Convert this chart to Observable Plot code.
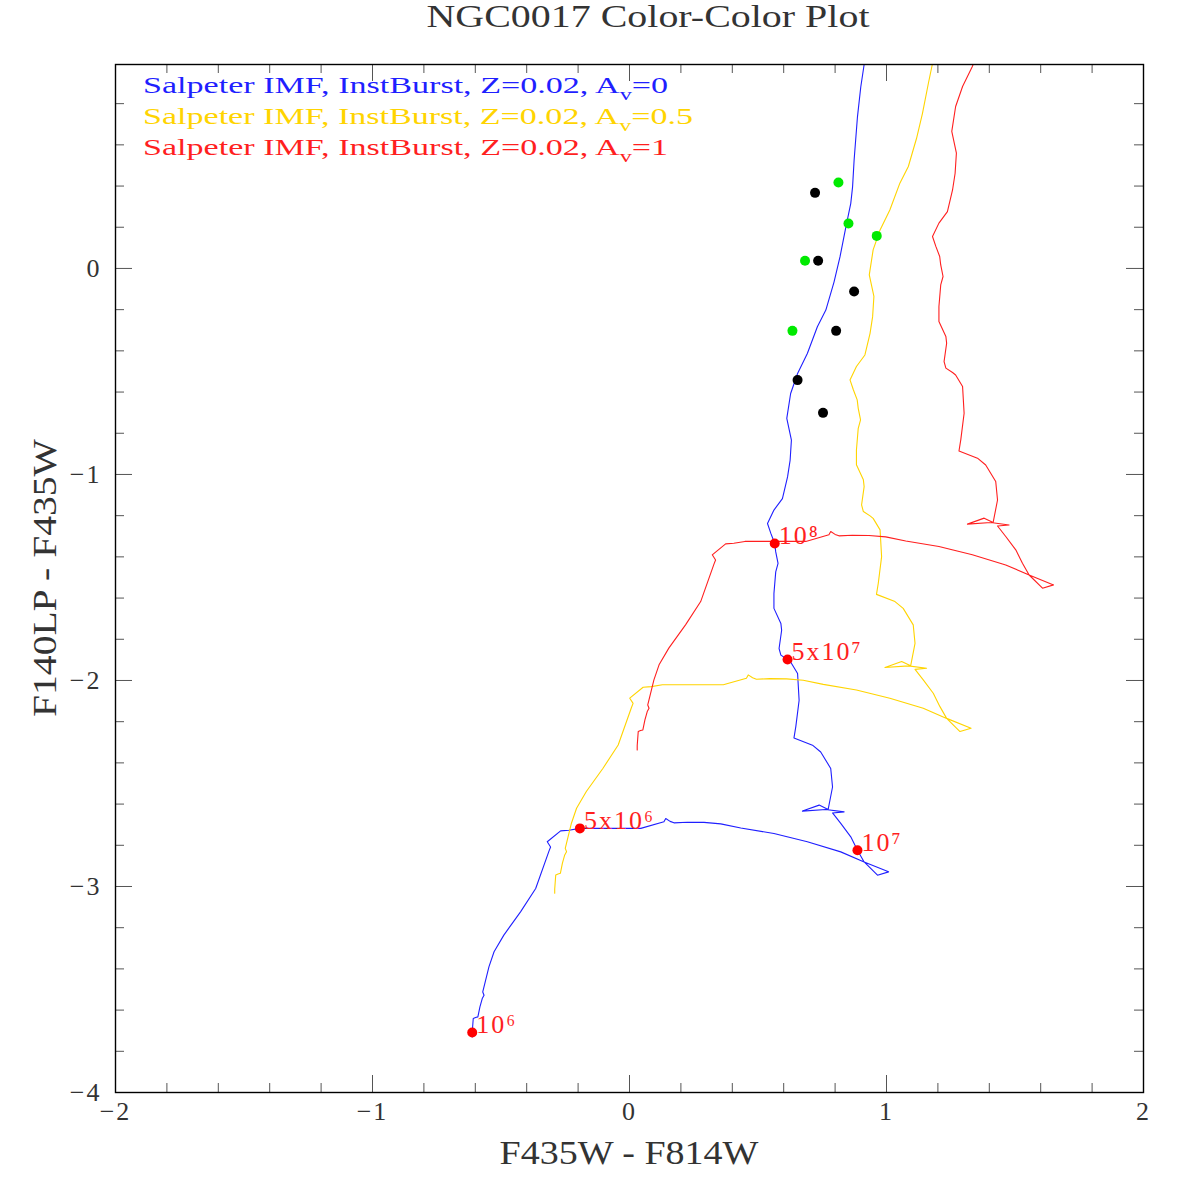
<!DOCTYPE html>
<html>
<head>
<meta charset="utf-8">
<script src="https://cdn.jsdelivr.net/npm/d3@7"></script>
<script src="https://cdn.jsdelivr.net/npm/@observablehq/plot@0.6"></script>
<style>
  html, body { margin: 0; padding: 0; background: #fff; }
  #chart svg { display: block; }
  g[aria-label="x-axis tick label"] text,
  g[aria-label="y-axis tick label"] text { letter-spacing: 2px; }
  .age-label text { letter-spacing: 2px; }
</style>
</head>
<body>
<div id="chart"></div>
<script>
// Evolutionary tracks: Salpeter IMF, instantaneous burst, Z=0.02.
// Each point is [F435W - F814W, F140LP - F435W], ordered by increasing age.
const trackAv0 = [
  [-0.612,-3.730],[-0.612,-3.709],[-0.608,-3.641],[-0.599,-3.636],[-0.590,-3.633],
  [-0.582,-3.584],[-0.573,-3.544],[-0.566,-3.528],[-0.571,-3.512],[-0.547,-3.390],
  [-0.527,-3.317],[-0.489,-3.236],[-0.424,-3.123],[-0.365,-3.010],[-0.313,-2.827],
  [-0.307,-2.808],[-0.320,-2.783],[-0.268,-2.730],[-0.236,-2.727],[-0.193,-2.718],
  [0.044,-2.718],[0.134,-2.686],[0.141,-2.670],[0.158,-2.684],[0.173,-2.691],
  [0.225,-2.688],[0.290,-2.689],[0.355,-2.696],[0.433,-2.716],[0.562,-2.743],
  [0.692,-2.783],[0.822,-2.832],[0.913,-2.881],[1.008,-2.929],[0.965,-2.945],
  [0.913,-2.881],[0.887,-2.824],[0.861,-2.759],[0.822,-2.694],[0.790,-2.643],
  [0.835,-2.638],[0.764,-2.626],[0.673,-2.634],[0.738,-2.605],[0.773,-2.626],
  [0.790,-2.517],[0.783,-2.427],[0.744,-2.347],[0.712,-2.314],[0.640,-2.279],
  [0.647,-2.225],[0.660,-2.096],[0.654,-1.966],[0.627,-1.910],[0.615,-1.898],
  [0.589,-1.877],[0.582,-1.845],[0.592,-1.756],[0.589,-1.723],[0.562,-1.650],
  [0.562,-1.578],[0.569,-1.473],[0.578,-1.432],[0.569,-1.376],[0.565,-1.335],
  [0.550,-1.286],[0.537,-1.238],[0.562,-1.173],[0.595,-1.117],[0.615,-1.012],
  [0.625,-0.931],[0.630,-0.833],[0.612,-0.728],[0.627,-0.607],[0.654,-0.510],
  [0.692,-0.413],[0.731,-0.283],[0.764,-0.202],[0.796,-0.065],[0.819,0.056],
  [0.842,0.202],[0.861,0.316],[0.868,0.396],[0.874,0.526],[0.887,0.736],
  [0.900,0.882],[0.913,0.990],[0.923,1.084]
];

const trackAv05 = [
  [-0.291,-3.033],[-0.291,-3.012],[-0.287,-2.944],[-0.278,-2.939],[-0.269,-2.936],
  [-0.261,-2.887],[-0.252,-2.847],[-0.245,-2.831],[-0.250,-2.815],[-0.226,-2.693],
  [-0.206,-2.620],[-0.168,-2.539],[-0.103,-2.426],[-0.044,-2.313],[0.008,-2.130],
  [0.014,-2.111],[0.001,-2.086],[0.053,-2.033],[0.085,-2.030],[0.128,-2.021],
  [0.365,-2.021],[0.455,-1.989],[0.462,-1.973],[0.479,-1.987],[0.494,-1.994],
  [0.546,-1.991],[0.611,-1.992],[0.676,-1.999],[0.754,-2.019],[0.883,-2.046],
  [1.013,-2.086],[1.143,-2.135],[1.234,-2.184],[1.329,-2.232],[1.286,-2.248],
  [1.234,-2.184],[1.208,-2.127],[1.182,-2.062],[1.143,-1.997],[1.111,-1.946],
  [1.156,-1.941],[1.085,-1.929],[0.994,-1.937],[1.059,-1.908],[1.094,-1.929],
  [1.111,-1.820],[1.104,-1.730],[1.065,-1.650],[1.033,-1.617],[0.961,-1.582],
  [0.968,-1.528],[0.981,-1.399],[0.975,-1.269],[0.948,-1.213],[0.936,-1.201],
  [0.910,-1.180],[0.903,-1.148],[0.913,-1.059],[0.910,-1.026],[0.883,-0.953],
  [0.883,-0.881],[0.890,-0.776],[0.899,-0.735],[0.890,-0.679],[0.886,-0.638],
  [0.871,-0.589],[0.858,-0.541],[0.883,-0.476],[0.916,-0.420],[0.936,-0.315],
  [0.946,-0.234],[0.951,-0.136],[0.933,-0.031],[0.948,0.090],[0.975,0.187],
  [1.013,0.284],[1.052,0.414],[1.085,0.495],[1.117,0.632],[1.140,0.753],
  [1.163,0.899],[1.182,1.013]
];

const trackAv1 = [
  [0.030,-2.337],[0.030,-2.316],[0.034,-2.248],[0.043,-2.243],[0.052,-2.240],
  [0.060,-2.191],[0.069,-2.151],[0.076,-2.135],[0.071,-2.119],[0.095,-1.997],
  [0.115,-1.924],[0.153,-1.843],[0.218,-1.730],[0.277,-1.617],[0.329,-1.434],
  [0.335,-1.415],[0.322,-1.390],[0.374,-1.337],[0.406,-1.334],[0.449,-1.325],
  [0.686,-1.325],[0.776,-1.293],[0.783,-1.277],[0.800,-1.291],[0.815,-1.298],
  [0.867,-1.295],[0.932,-1.296],[0.997,-1.303],[1.075,-1.323],[1.204,-1.350],
  [1.334,-1.390],[1.464,-1.439],[1.555,-1.488],[1.650,-1.536],[1.607,-1.552],
  [1.555,-1.488],[1.529,-1.431],[1.503,-1.366],[1.464,-1.301],[1.432,-1.250],
  [1.477,-1.245],[1.406,-1.233],[1.315,-1.241],[1.380,-1.212],[1.415,-1.233],
  [1.432,-1.124],[1.425,-1.034],[1.386,-0.954],[1.354,-0.921],[1.282,-0.886],
  [1.289,-0.832],[1.302,-0.703],[1.296,-0.573],[1.269,-0.517],[1.257,-0.505],
  [1.231,-0.484],[1.224,-0.452],[1.234,-0.363],[1.231,-0.330],[1.204,-0.257],
  [1.204,-0.185],[1.211,-0.080],[1.220,-0.039],[1.211,0.017],[1.207,0.058],
  [1.192,0.107],[1.179,0.155],[1.204,0.220],[1.237,0.276],[1.257,0.381],
  [1.267,0.462],[1.272,0.560],[1.254,0.665],[1.269,0.786],[1.296,0.883],
  [1.334,0.980],[1.373,1.110]
];

// Age markers on the Av=0 track
const ageLabels = ["10⁶", "5x10⁶", "10⁷", "5x10⁷", "10⁸"];
const ageX = [-0.612, -0.193, 0.887, 0.615, 0.565];
const ageY = [-3.709, -2.718, -2.824, -1.898, -1.335];

// NGC0017 clusters
const greenX = [0.813, 0.852, 0.962, 0.683, 0.634];
const greenY = [0.417, 0.218, 0.158, 0.037, -0.303];
const blackX = [0.722, 0.734, 0.874, 0.804, 0.654, 0.753];
const blackY = [0.367, 0.037, -0.112, -0.303, -0.542, -0.701];

// Axis ticks
const xMajor = [-2, -1, 0, 1, 2];
const xMinor = [-1.8, -1.6, -1.4, -1.2, -0.8, -0.6, -0.4, -0.2, 0.2, 0.4, 0.6, 0.8, 1.2, 1.4, 1.6, 1.8];
const yMajor = [-4, -3, -2, -1, 0];
const yMinor = [-3.8, -3.6, -3.4, -3.2, -2.8, -2.6, -2.4, -2.2, -1.8, -1.6, -1.4, -1.2,
                -0.8, -0.6, -0.4, -0.2, 0.2, 0.4, 0.6, 0.8];

// Legend
const legendHead = ["Salpeter IMF, InstBurst, Z=0.02, A", "Salpeter IMF, InstBurst, Z=0.02, A", "Salpeter IMF, InstBurst, Z=0.02, A"];
const legendAv = ["0", "0.5", "1"];
const trackColors = ["#1f1fff", "#ffd400", "#ff1f1f"];

const FONT = "'Liberation Serif', 'DejaVu Serif', serif";
const W = 1181, H = 1181;
const mL = 115, mR = 38, mT = 64, mB = 89;
const fw = W - mL - mR, fh = H - mT - mB;
const MAJ = 17, MIN = 9;
const tickColor = "#555";

const xy = {x: d => d[0], y: d => d[1]};
const intFormat = d => (d < 0 ? "\u2212" : "") + Math.abs(d);

const chart = Plot.plot({
  width: W,
  height: H,
  marginLeft: mL, marginRight: mR, marginTop: mT, marginBottom: mB,
  style: {fontFamily: FONT, background: "#fff", color: "#333"},
  x: {domain: [-2, 2], label: null},
  y: {domain: [-4, 0.99], label: null},
  marks: [
    // inward tick marks on all four sides
    Plot.ruleX(xMajor, {stroke: tickColor, insetTop: fh - MAJ}),
    Plot.ruleX(xMinor, {stroke: tickColor, insetTop: fh - MIN}),
    Plot.ruleX(xMajor, {stroke: tickColor, insetBottom: fh - MAJ}),
    Plot.ruleX(xMinor, {stroke: tickColor, insetBottom: fh - MIN}),
    Plot.ruleY(yMajor, {stroke: tickColor, insetRight: fw - MAJ}),
    Plot.ruleY(yMinor, {stroke: tickColor, insetRight: fw - MIN}),
    Plot.ruleY(yMajor, {stroke: tickColor, insetLeft: fw - MAJ}),
    Plot.ruleY(yMinor, {stroke: tickColor, insetLeft: fw - MIN}),
    Plot.axisX({anchor: "bottom", ticks: xMajor, tickFormat: intFormat, tickSize: 0, tickPadding: 9, fontSize: 26, fill: "#333", label: null}),
    Plot.axisY({anchor: "left", ticks: yMajor, tickFormat: intFormat, tickSize: 0, tickPadding: 14, fontSize: 26, fill: "#333", label: null}),

    // model tracks
    Plot.line(trackAv0, {...xy, stroke: trackColors[0], strokeWidth: 1.1, clip: true}),
    Plot.line(trackAv05, {...xy, stroke: trackColors[1], strokeWidth: 1.1, clip: true}),
    Plot.line(trackAv1, {...xy, stroke: trackColors[2], strokeWidth: 1.1, clip: true}),

    // clusters
    Plot.dot({length: blackX.length}, {x: blackX, y: blackY, r: 5, fill: "#000", stroke: null}),
    Plot.dot({length: greenX.length}, {x: greenX, y: greenY, r: 5, fill: "#00ea00", stroke: null}),

    // age markers
    Plot.dot({length: ageX.length}, {x: ageX, y: ageY, r: 5, fill: "#ff0000", stroke: null}),
    Plot.text({length: ageX.length}, {
      x: ageX, y: ageY, text: ageLabels, textAnchor: "start", dx: 4, dy: -8,
      fill: "#ff1f1f", fontSize: 26, className: "age-label"
    }),

    Plot.frame({stroke: "#000", strokeWidth: 1.4})
  ]
});

const svg = d3.select(chart);

// title
svg.append("text")
  .attr("x", 648).attr("y", 27)
  .attr("text-anchor", "middle")
  .attr("font-size", 31)
  .attr("fill", "#333")
  .attr("textLength", 443).attr("lengthAdjust", "spacingAndGlyphs")
  .text("NGC0017 Color-Color Plot");

// x-axis label
svg.append("text")
  .attr("x", mL + fw / 2).attr("y", 1164)
  .attr("text-anchor", "middle")
  .attr("font-size", 33)
  .attr("fill", "#333")
  .attr("textLength", 259).attr("lengthAdjust", "spacingAndGlyphs")
  .text("F435W - F814W");

// y-axis label
svg.append("text")
  .attr("transform", `translate(56,${mT + fh / 2}) rotate(-90)`)
  .attr("text-anchor", "middle")
  .attr("font-size", 33)
  .attr("fill", "#333")
  .attr("textLength", 278).attr("lengthAdjust", "spacingAndGlyphs")
  .text("F140LP - F435W");

// legend, one line per track
const legendWidths = [525, 550, 525];
legendHead.forEach((head, i) => {
  const t = svg.append("text")
    .attr("x", 143).attr("y", 93 + 31 * i)
    .attr("text-anchor", "start")
    .attr("font-size", 24)
    .attr("fill", trackColors[i])
    .attr("textLength", legendWidths[i]).attr("lengthAdjust", "spacingAndGlyphs");
  t.append("tspan").text(head);
  t.append("tspan").attr("dy", 7).attr("font-size", 17).text("v");
  t.append("tspan").attr("dy", -7).text("=" + legendAv[i]);
});

document.getElementById("chart").appendChild(chart);
</script>
</body>
</html>
